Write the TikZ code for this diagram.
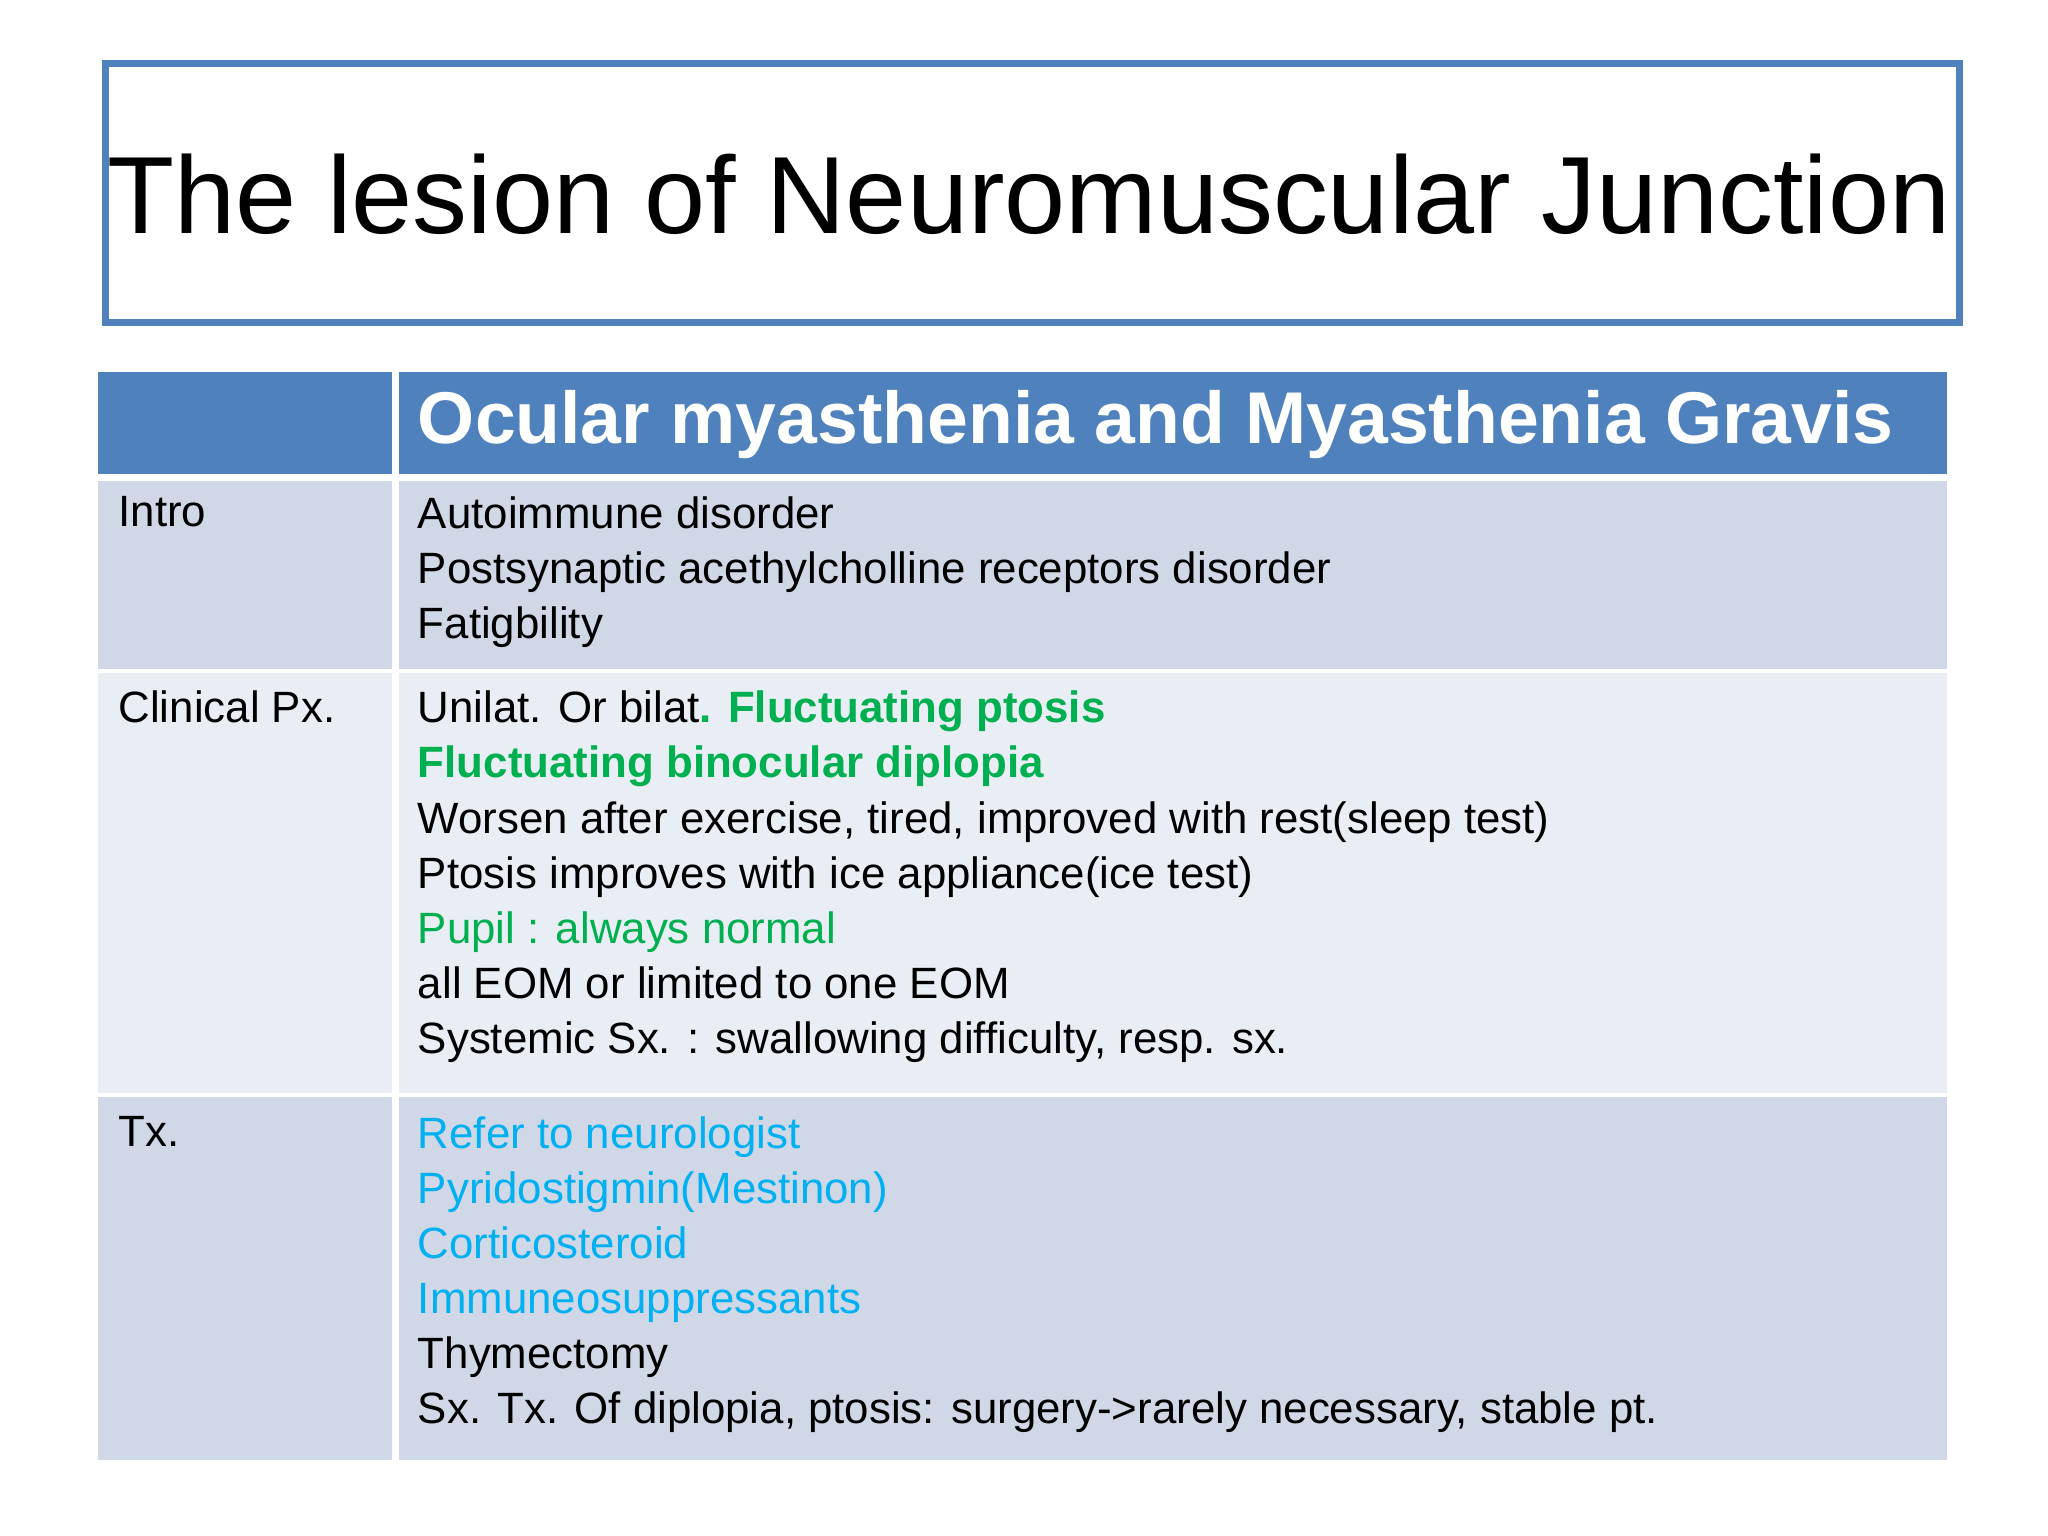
\documentclass[tikz,border=0pt]{standalone}
\usepackage{fontspec}
\setmainfont{Liberation Sans}
\definecolor{hdr}{HTML}{4F81BD}
\definecolor{rowA}{HTML}{D0D8E8}
\definecolor{rowB}{HTML}{E9EDF4}
\definecolor{grn}{HTML}{00B050}
\definecolor{blu}{HTML}{00B0F0}
\tikzset{
 cell/.style={draw=white,line width=3pt},
 body/.style={anchor=north west,inner sep=0pt,align=left,font=\fontsize{19}{23.9}\selectfont},
}
\begin{document}
\begin{tikzpicture}[x=0.02cm,y=-0.02cm]
\useasboundingbox (0,0) rectangle (1560,1170);
\fill[white] (0,0) rectangle (1560,1170);
\node[draw=hdr,line width=3pt,minimum width=28.24cm,minimum height=3.94cm,anchor=north west,inner sep=0pt] (title) at (78,46) {};
\node[font=\fontsize{47.6}{50}\selectfont] (tt) at (784,148) {The lesion of Neuromuscular Junction};
% table cells
\fill[hdr] (75,283) rectangle (1483,362);
\fill[rowA] (75,364) rectangle (1483,511);
\fill[rowB] (75,511) rectangle (1483,834);
\fill[rowA] (75,834) rectangle (1483,1112);
\draw[white,line width=3pt] (301,283) -- (301,1112);
\draw[white,line width=3pt] (75,364) -- (1483,364);
\draw[white,line width=2pt] (75,511) -- (1483,511);
\draw[white,line width=2pt] (75,834) -- (1483,834);
\node[anchor=west,inner sep=0pt,text=white,font=\bfseries\fontsize{31.8}{34}\selectfont] (h) at (318,323) {Ocular myasthenia and Myasthenia Gravis};
\node[body] (r1) at (90,378) {Intro};
\node[body] (r2) at (90,526) {Clinical Px.};
\node[body] (r3) at (90,850) {Tx.};
\node[body] (c1) at (318,378) {Autoimmune disorder\\Postsynaptic acethylcholline receptors disorder\\Fatigbility};
\node[body] (c2) at (318,526) {Unilat. Or bilat\textcolor{grn}{\bfseries. Fluctuating ptosis}\\\textcolor{grn}{\bfseries Fluctuating binocular diplopia}\\Worsen after exercise, tired, improved with rest(sleep test)\\Ptosis improves with ice appliance(ice test)\\\textcolor{grn}{Pupil : always normal}\\all EOM or limited to one EOM\\Systemic Sx. : swallowing difficulty, resp. sx.};
\node[body] (c3) at (318,850) {\textcolor{blu}{Refer to neurologist}\\\textcolor{blu}{Pyridostigmin(Mestinon)}\\\textcolor{blu}{Corticosteroid}\\\textcolor{blu}{Immuneosuppressants}\\Thymectomy\\Sx. Tx. Of diplopia, ptosis: surgery->rarely necessary, stable pt.};
\end{tikzpicture}
\end{document}
